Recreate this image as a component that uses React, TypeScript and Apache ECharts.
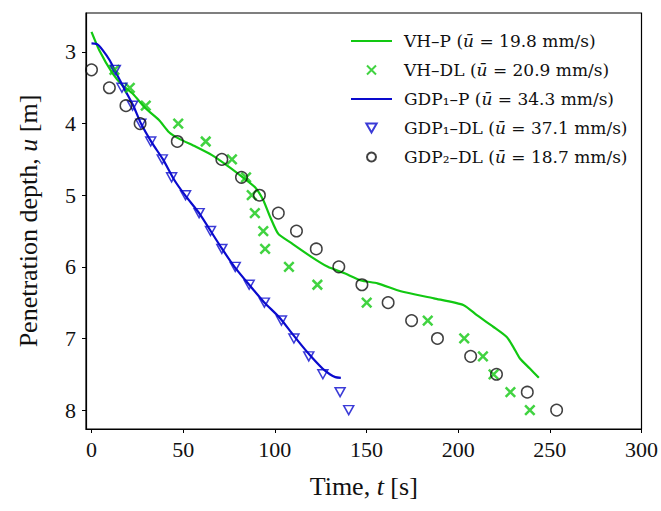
import React, { useEffect, useRef } from "react";
import * as echarts from "echarts";

// Depth levels of the DL measurements [m]
const dlDepth = [3.25, 3.5, 3.75, 4.0, 4.25, 4.5, 4.75, 5.0, 5.25, 5.5, 5.75, 6.0, 6.25, 6.5, 6.75, 7.0, 7.25, 7.5, 7.75, 8.0];

// Time [s] at each depth level
const vhDLTime = [12.5, 20.9, 29.6, 47.3, 62.3, 76.6, 84.3, 87.4, 89.1, 93.7, 94.7, 107.7, 123.2, 150.1, 183.4, 203.3, 213.5, 219.3, 228.5, 239.1];
const gdp1DLTime = [13.0, 16.6, 22.4, 26.9, 32.3, 38.6, 43.7, 51.3, 58.7, 64.9, 71.1, 78.4, 86.0, 94.3, 103.6, 110.4, 118.5, 126.2, 135.6, 140.3];
const gdp2DLTime = [0, 9.75, 18.8, 26.5, 46.8, 71.1, 81.8, 91.6, 101.9, 111.8, 122.6, 134.9, 147.5, 161.8, 174.6, 188.7, 206.8, 220.9, 237.7, 253.7];

// Predicted curves [t, u]
const vhP: [number, number][] = [
  [0, 2.72], [4.3, 2.98], [11.5, 3.3], [17, 3.47], [22.4, 3.58], [29.6, 3.79], [36.8, 3.95], [42.3, 4.12],
  [47.7, 4.21], [56.7, 4.32], [65.7, 4.44], [74.8, 4.6], [82, 4.74], [89.2, 4.89], [93.7, 5.07], [97.4, 5.3],
  [101.9, 5.54], [109.1, 5.67], [119.9, 5.86], [128.9, 6.0], [138, 6.09], [147, 6.19], [156, 6.23],
  [168.7, 6.34], [186.8, 6.44], [203, 6.535], [210.2, 6.675], [219.3, 6.84], [226.5, 6.98], [230.1, 7.12],
  [233.7, 7.28], [239.1, 7.42], [244, 7.55],
];
const gdp1P: [number, number][] = [
  [0, 2.88], [3, 2.89], [6, 2.97], [10, 3.12], [14, 3.32], [18, 3.52], [23, 3.76], [27, 4.0], [33, 4.27],
  [39, 4.5], [45, 4.78], [51, 5.0], [59, 5.26], [65, 5.5], [71, 5.74], [78, 6.0], [86, 6.25], [94, 6.49],
  [103, 6.72], [110, 6.95], [118, 7.2], [126, 7.42], [130, 7.5], [133, 7.54], [136, 7.55],
];

const seriesNames = ["VH–P", "VH–DL", "GDP₁–P", "GDP₁–DL", "GDP₂–DL"];
const meanSpeeds = ["19.8", "20.9", "34.3", "37.1", "18.7"];

const xTicks = [0, 50, 100, 150, 200, 250, 300];
const yTicks = [3, 4, 5, 6, 7, 8];

const GREEN = "#12c812";
const BLUE = "#0a0acd";
const BLACK = "#111111";
const FONT = "'Liberation Serif', 'DejaVu Serif', serif";
const LFONT = "'DejaVu Serif', 'Liberation Serif', serif";

const X_SYMBOL = "path://M0 0L10 10M10 0L0 10";
const TRI_SYMBOL = "path://M0 0L10 0L5 8.7Z";

export default function App() {
  const ref = useRef<HTMLDivElement>(null);
  useEffect(() => {
    if (!ref.current) return;
    const chart = echarts.init(ref.current, undefined, { renderer: "svg" });
    const pair = (ts: number[]) => ts.map((t, i) => [t, dlDepth[i]]);
    const lineIdx = [0, 2];
    chart.setOption({
      animation: false,
      backgroundColor: "#ffffff",
      grid: {
        left: 86, right: 15, top: 13, bottom: 82,
        show: true, borderColor: "#000", borderWidth: 1.2, backgroundColor: "transparent",
      },
      legend: {
        orient: "vertical",
        left: 345,
        top: 27,
        itemWidth: 41,
        itemHeight: 9,
        itemGap: 11,
        symbolKeepAspect: true,
        data: seriesNames.map((n, i) =>
          lineIdx.includes(i) ? { name: n, itemStyle: { opacity: 0 } } : { name: n }
        ),
        formatter: (name: string) => {
          const i = seriesNames.indexOf(name);
          return `${name} ({i|ū} = ${meanSpeeds[i]} mm/s)`;
        },
        textStyle: {
          fontFamily: LFONT, fontSize: 17, lineHeight: 18, color: "#111", padding: [0, 0, 0, 7],
          rich: { i: { fontFamily: LFONT, fontSize: 17, lineHeight: 18, fontStyle: "italic", color: "#111" } },
        },
      },
      xAxis: {
        type: "value",
        min: -3,
        max: 300,
        name: "Time, {i|t} [s]",
        nameLocation: "middle",
        nameGap: 44,
        nameTextStyle: {
          fontFamily: FONT, fontSize: 26, color: "#111",
          rich: { i: { fontFamily: FONT, fontSize: 26, fontStyle: "italic", color: "#111" } },
        },
        splitLine: { show: false },
        axisLine: { show: true, onZero: false, lineStyle: { color: "#000", width: 1.2 } },
        axisTick: { show: true, inside: false, length: 4, customValues: xTicks, lineStyle: { color: "#000" } },
        axisLabel: { customValues: xTicks, margin: 9, fontFamily: FONT, fontSize: 22, color: "#111" },
      },
      yAxis: {
        type: "value",
        inverse: true,
        min: 2.456,
        max: 8.264,
        name: "Penetration depth, {i|u} [m]",
        nameLocation: "middle",
        nameGap: 45,
        nameTextStyle: {
          fontFamily: FONT, fontSize: 26, color: "#111",
          rich: { i: { fontFamily: FONT, fontSize: 26, fontStyle: "italic", color: "#111" } },
        },
        splitLine: { show: false },
        axisLine: { show: true, onZero: false, lineStyle: { color: "#000", width: 1.2 } },
        axisTick: { show: true, inside: false, length: 4, customValues: yTicks, lineStyle: { color: "#000" } },
        axisLabel: { customValues: yTicks, margin: 10, fontFamily: FONT, fontSize: 22, color: "#111" },
      },
      series: [
        {
          name: seriesNames[0], type: "line", data: vhP, symbol: "circle", showSymbol: false, smooth: 0.2,
          lineStyle: { color: GREEN, width: 2.2 }, itemStyle: { color: GREEN }, z: 3,
        },
        {
          name: seriesNames[1], type: "scatter", data: pair(vhDLTime),
          symbol: X_SYMBOL, symbolSize: 9.5,
          itemStyle: { color: "transparent", borderColor: GREEN, borderWidth: 2.5 }, z: 4,
        },
        {
          name: seriesNames[2], type: "line", data: gdp1P, symbol: "circle", showSymbol: false, smooth: 0.2,
          lineStyle: { color: BLUE, width: 2.2 }, itemStyle: { color: BLUE }, z: 3,
        },
        {
          name: seriesNames[3], type: "scatter", data: pair(gdp1DLTime),
          symbol: TRI_SYMBOL, symbolSize: [10, 9],
          itemStyle: { color: "transparent", borderColor: BLUE, borderWidth: 1.5 }, z: 4,
        },
        {
          name: seriesNames[4], type: "scatter", data: pair(gdp2DLTime),
          symbol: "circle", symbolSize: 11.5,
          itemStyle: { color: "transparent", borderColor: BLACK, borderWidth: 1.5 }, z: 5,
        },
      ],
    });
    return () => chart.dispose();
  }, []);
  return (
    <div
      ref={ref}
      style={{ position: "absolute", left: 0, top: 0, width: 661, height: 511 }}
    />
  );
}
